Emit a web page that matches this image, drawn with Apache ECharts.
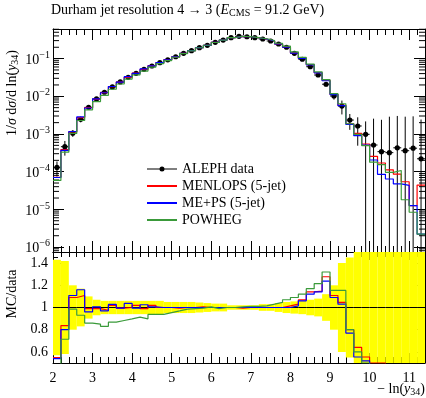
<!DOCTYPE html>
<html><head><meta charset="utf-8">
<script src="https://cdn.jsdelivr.net/npm/echarts@6/dist/echarts.min.js"></script>
<style>html,body{margin:0;padding:0;background:#fff}#c{width:426px;height:398px}</style>
</head><body><div id="c"></div>
<script>
// ---- data ----
const binLow = [2.0,2.2,2.4,2.6,2.8,3.0,3.2,3.4,3.6,3.8,4.0,4.2,4.4,4.6,4.8,5.0,5.2,5.4,5.6,5.8,6.0,6.2,6.4,6.6,6.8,7.0,7.2,7.4,7.6,7.8,8.0,8.2,8.4,8.6,8.8,9.0,9.2,9.4,9.6,9.8,10.0,10.2,10.4,10.6,10.8,11.0,11.2];
const binHigh = [2.2,2.4,2.6,2.8,3.0,3.2,3.4,3.6,3.8,4.0,4.2,4.4,4.6,4.8,5.0,5.2,5.4,5.6,5.8,6.0,6.2,6.4,6.6,6.8,7.0,7.2,7.4,7.6,7.8,8.0,8.2,8.4,8.6,8.8,9.0,9.2,9.4,9.6,9.8,10.0,10.2,10.4,10.6,10.8,11.0,11.2,11.4];
const alephData = [1.3e-4,4.6e-4,1.05e-3,2.45e-3,5.1e-3,8.5e-3,0.0128,0.0177,0.024,0.0319,0.0407,0.052,0.0637,0.078,0.093,0.112,0.138,0.162,0.195,0.225,0.27,0.31,0.36,0.39,0.38,0.358,0.331,0.293,0.244,0.2,0.138,0.096,0.061,0.0367,0.0209,0.0102,0.0055,0.00234,0.00163,9.8e-4,5.1e-4,3.4e-4,3.2e-4,4.3e-4,3.6e-4,4.2e-4,2.2e-4];
const alephRelErr = [0.43,0.42,0.2,0.17,0.1,0.07,0.06,0.06,0.06,0.06,0.06,0.06,0.06,0.06,0.05,0.05,0.05,0.05,0.045,0.04,0.035,0.035,0.02,0.02,0.02,0.02,0.03,0.03,0.04,0.05,0.055,0.06,0.07,0.08,0.12,0.2,0.4,0.45,0.7,1.2,4,6,8,6,7,6,10];
const ratioMenlops = [0.548,0.837,1.09,1.108,0.99,0.99,0.975,1.02,0.995,1.0,1.02,0.99,1.02,1.0,1.0,0.995,1.0,1.0,1.005,1.0,1.0,1.0,1.0,0.995,1.0,1.0,1.0,1.0,1.0,1.015,1.03,1.068,1.14,1.148,1.277,1.108,1.046,0.80,0.64,0.554,0.5,0.5,0.35,0.2,0.15,0.03,0.2];
const ratioMePs = [0.54,0.80,1.108,1.16,0.96,1.006,0.97,1.028,0.994,1.037,0.994,1.025,1.006,1.0,1.0,1.0,1.0,1.0,1.0,1.0,1.0,1.0,1.0,1.0,1.0,1.0,1.0,1.0,1.0,1.0,1.015,1.06,1.12,1.14,1.237,1.09,1.03,0.77,0.554,0.52,0.4,0.25,0.2,0.11,0.12,0.03,0.01];
const ratioPowheg = [0.45,0.714,0.985,0.93,0.86,0.85,0.83,0.868,0.883,0.898,0.914,0.898,0.938,0.938,0.954,0.969,0.985,0.99,0.994,1.006,0.99,1.0,1.0,1.005,1.01,1.01,1.015,1.03,1.046,1.07,1.09,1.12,1.17,1.215,1.32,1.154,1.154,0.8,0.6,0.5,0.35,0.45,0.3,0.25,0.05,0.02,0.01];
const xTickLabels = [2,3,4,5,6,7,8,9,10,11];
const ratioTickLabels = [0.6,0.8,1.0,1.2,1.4];

// ---- styling / layout ----
const FONT = 'Liberation Serif';
const X_MIN = 2, X_MAX = 11.4;
const Y_MIN = 7.4e-7, Y_MAX = 0.61;
const R_MIN = 0.5, R_MAX = 1.5;
const COLORS = {menlops:'#ff0000', meps:'#0000ff', powheg:'#3a9a3a'};
const GL = 53, GW = 372;

function steps(vals){
  const out = [];
  vals.forEach((v,i)=>{ out.push([binLow[i], v]); out.push([binHigh[i], v]); });
  return out;
}
const mcTop = r => alephData.map((d,i)=>d*r[i]);

const minorLog = [];
for (let e=-7;e<=0;e++) for (let k=2;k<=9;k++){ const v=k*Math.pow(10,e); if(v>Y_MIN&&v<Y_MAX) minorLog.push(v); }

const FS = 14;
const baseRich = {
  n:{fontFamily:FONT,fontSize:FS,lineHeight:17,color:'#000'},
  i:{fontFamily:FONT,fontSize:FS,lineHeight:17,fontStyle:'italic',color:'#000'},
  sub:{fontFamily:FONT,fontSize:10,lineHeight:9,verticalAlign:'bottom',color:'#000'},
  sup:{fontFamily:FONT,fontSize:10,lineHeight:9,verticalAlign:'top',color:'#000'}
};

const axisLineStyle = {show:true, lineStyle:{color:'#000', width:1}};
function xAx(grid, pos, major, minor, labels){
  return {type:'value', gridIndex:grid, position:pos, min:X_MIN, max:X_MAX, interval:1,
    axisLine:axisLineStyle, splitLine:{show:false},
    axisTick:{show:true, inside:true, length:major, lineStyle:{color:'#000'}},
    minorTick:{show:true, splitNumber:5, length:minor, lineStyle:{color:'#000'}},
    axisLabel: labels ? {show:true, margin:8, fontFamily:FONT, fontSize:FS, color:'#000',
       customValues: xTickLabels, showMinLabel:true, showMaxLabel:true} : {show:false}};
}
function yLog(pos, labels){
  return {type:'log', logBase:10, gridIndex:0, position:pos, min:Y_MIN, max:Y_MAX,
    axisLine:axisLineStyle, splitLine:{show:false},
    axisTick:{show:true, inside:true, length:11, lineStyle:{color:'#000'}},
    minorTick:{show:false},
    axisLabel: labels ? {show:true, margin:3, showMinLabel:false, showMaxLabel:false,
      formatter: v => '{b|10}{s|−' + Math.round(-Math.log10(v)) + '}',
      rich:{b:{fontFamily:FONT,fontSize:FS,lineHeight:17,verticalAlign:'bottom',color:'#000'},
            s:{fontFamily:FONT,fontSize:10,lineHeight:9,verticalAlign:'top',color:'#000'}}} : {show:false}};
}
function yRatio(pos, labels){
  return {type:'value', gridIndex:1, position:pos, min:R_MIN, max:R_MAX, interval:0.05,
    axisLine:axisLineStyle, splitLine:{show:false},
    axisTick:{show:true, inside:true, length:8, customValues: ratioTickLabels, lineStyle:{color:'#000'}},
    minorTick:{show:false},
    axisLabel: labels ? {show:true, margin:5, fontFamily:FONT, fontSize:FS, color:'#000',
      customValues: ratioTickLabels, formatter: v => (Math.abs(v-1)<1e-9 ? '1' : String(+v.toFixed(1)))} : {show:false}};
}
function yRatioMinor(pos){
  return {type:'value', gridIndex:1, position:pos, min:R_MIN, max:R_MAX, interval:0.05,
    axisLine:{show:false}, splitLine:{show:false},
    axisTick:{show:true, inside:true, length:5, lineStyle:{color:'#000'}},
    axisLabel:{show:false}};
}

const chart = echarts.init(document.getElementById('c'), null, {renderer:'canvas'});

const dataItems = alephData.map((v,i)=>[binLow[i], binHigh[i], v, v*alephRelErr[i]]);
const bandItems = alephRelErr.map((e,i)=>[binLow[i], binHigh[i], e]);

function mcLine(name, vals, color, xi, yi, z){
  return {name, type:'line', xAxisIndex:xi, yAxisIndex:yi, data:steps(vals), symbol:'none',
    showSymbol:false, clip:true, animation:false, z,
    lineStyle:{color, width:1.2}, itemStyle:{color}};
}

chart.setOption({
  animation:false,
  backgroundColor:'#fff',
  grid:[{left:GL, top:29, width:GW, height:223}, {left:GL, top:252, width:GW, height:111}],
  xAxis:[xAx(0,'bottom',11,6,false), xAx(0,'top',11,6,false), xAx(1,'bottom',10,6,true), xAx(1,'top',8,5,false)],
  yAxis:[yLog('left',true), yLog('right',false), yRatio('left',true), yRatio('right',false), yRatioMinor('left'), yRatioMinor('right')],
  legend:{orient:'vertical', left:146, top:162, padding:0, itemWidth:30, itemHeight:5, itemGap:3, selectedMode:false,
    textStyle:{fontFamily:FONT, fontSize:14, color:'#000'},
    data:[{name:'ALEPH data', icon:'path://M0,2L30,2L30,3L0,3Z M17.5,2.5A2.5,2.5,0,1,1,12.5,2.5A2.5,2.5,0,1,1,17.5,2.5Z', itemStyle:{color:'#000', opacity:1}},
          {name:'MENLOPS (5-jet)', itemStyle:{opacity:0}},
          {name:'ME+PS (5-jet)', itemStyle:{opacity:0}},
          {name:'POWHEG', itemStyle:{opacity:0}}]},
  series:[
    {name:'log minor ticks', type:'custom', xAxisIndex:0, yAxisIndex:0, data:minorLog, silent:true, z:1,
      renderItem:(p,api)=>{ const v=api.value(0); const a=api.coord([X_MIN,v]); const b=api.coord([X_MAX,v]);
        return {type:'group', children:[
          {type:'line', shape:{x1:a[0],y1:a[1],x2:a[0]+6,y2:a[1]}, style:{stroke:'#000',lineWidth:1}},
          {type:'line', shape:{x1:b[0],y1:b[1],x2:b[0]-6,y2:b[1]}, style:{stroke:'#000',lineWidth:1}}]}; }},
    {name:'ALEPH data', type:'custom', xAxisIndex:0, yAxisIndex:0, data:dataItems, clip:true, z:3,
      itemStyle:{color:'#000'},
      renderItem:(p,api)=>{
        const lo=api.value(0), hi=api.value(1), v=api.value(2), e=api.value(3);
        const xc=(lo+hi)/2;
        const top=Math.min(v+e, Y_MAX), bot=(v-e>Y_MIN)?v-e:Y_MIN;
        const c=api.coord([xc,v]), t=api.coord([xc,top]), b=api.coord([xc,bot]);
        const l=api.coord([lo,v]), r=api.coord([hi,v]);
        return {type:'group', children:[
          {type:'line', shape:{x1:c[0],y1:t[1],x2:c[0],y2:b[1]}, style:{stroke:'#000',lineWidth:1}},
          {type:'line', shape:{x1:l[0],y1:c[1],x2:r[0],y2:c[1]}, style:{stroke:'#000',lineWidth:1}},
          {type:'circle', shape:{cx:c[0],cy:c[1],r:2.6}, style:{fill:'#000'}}]};
      }},
    mcLine('MENLOPS (5-jet)', mcTop(ratioMenlops), COLORS.menlops, 0, 0, 4),
    mcLine('ME+PS (5-jet)', mcTop(ratioMePs), COLORS.meps, 0, 0, 5),
    mcLine('POWHEG', mcTop(ratioPowheg), COLORS.powheg, 0, 0, 6),
    {name:'band', type:'custom', xAxisIndex:2, yAxisIndex:2, data:bandItems, clip:true, z:1, silent:true,
      renderItem:(p,api)=>{
        const lo=api.value(0), hi=api.value(1), e=api.value(2);
        const a=api.coord([lo, Math.min(1+e,R_MAX)]), b=api.coord([hi, Math.max(1-e,R_MIN)]);
        return {type:'rect', shape:{x:a[0], y:a[1], width:b[0]-a[0], height:b[1]-a[1]}, style:{fill:'#ffff00'}};
      }},
    {name:'data ratio', type:'line', xAxisIndex:2, yAxisIndex:2, data:steps(alephData.map(v=>v/v)), symbol:'none',
      lineStyle:{color:'#000', width:1}, z:3},
    mcLine('MENLOPS (5-jet)', ratioMenlops, COLORS.menlops, 2, 2, 4),
    mcLine('ME+PS (5-jet)', ratioMePs, COLORS.meps, 2, 2, 5),
    mcLine('POWHEG', ratioPowheg, COLORS.powheg, 2, 2, 6)
  ],
  graphic:[
    {type:'text', left:51, top:3, style:{text:'{n|Durham jet resolution 4 → 3 (}{i|E}{sub|CMS}{n| = 91.2 GeV)}', rich:baseRich}},
    {type:'text', x:12, y:93, rotation:Math.PI/2, style:{text:'{n|1/}{i|σ}{n| d}{i|σ}{n|/d ln(}{i|y}{sub|34}{n|)}', rich:baseRich, align:'center', verticalAlign:'middle'}},
    {type:'text', x:12, y:294, rotation:Math.PI/2, style:{text:'{n|MC/data}', rich:baseRich, align:'center', verticalAlign:'middle'}},
    {type:'text', right:1, top:382, style:{text:'{n|− ln(}{i|y}{sub|34}{n|)}', rich:baseRich}}
  ]
});
</script></body></html>
